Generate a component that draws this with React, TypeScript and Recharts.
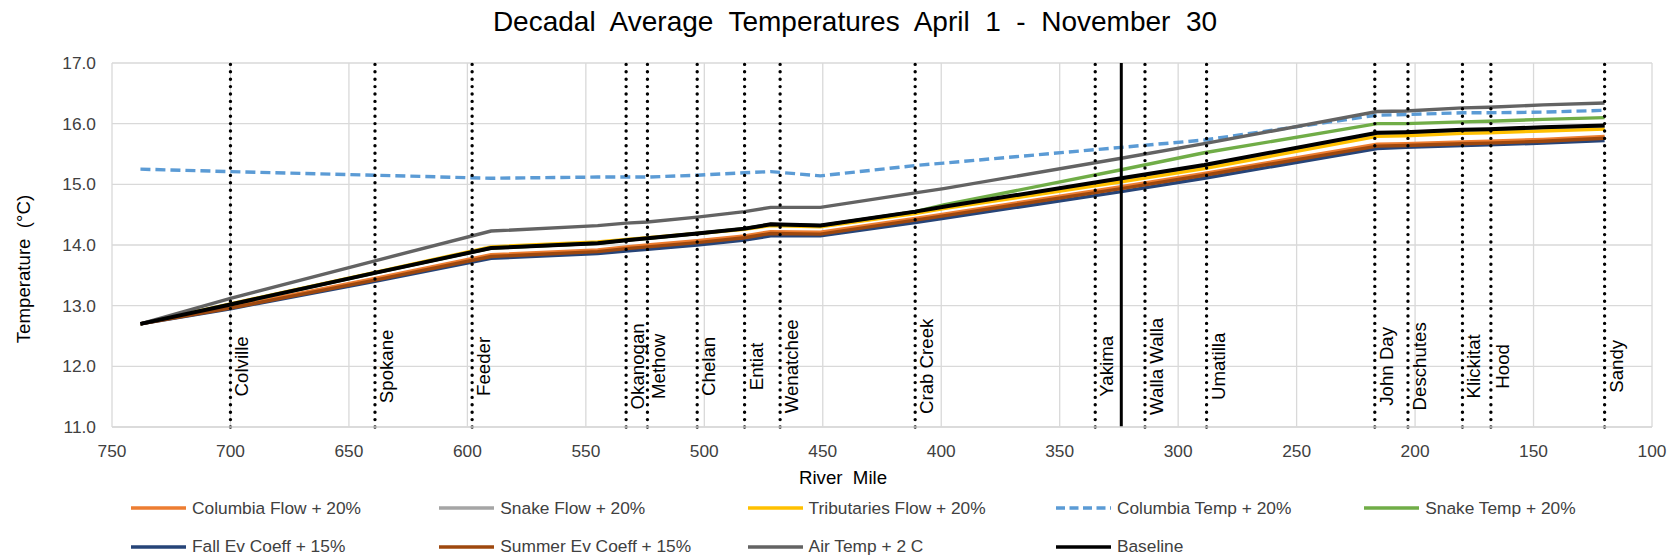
import { CartesianGrid, Line, LineChart, ReferenceLine, XAxis, YAxis } from "recharts";

// river miles where the model reports a value (upstream -> downstream)
const MILES = [738, 700, 639, 590, 545, 533, 524, 503, 483, 472, 451, 411, 399, 324, 289, 216, 204, 180, 169, 146, 120];

const COLUMBIA_FLOW = [12.7, 12.98, 13.45, 13.84, 13.92, 13.97, 14.0, 14.07, 14.15, 14.22, 14.21, 14.44, 14.51, 14.96, 15.18, 15.66, 15.67, 15.7, 15.71, 15.74, 15.79];
const SNAKE_FLOW = [12.7, 13.02, 13.54, 13.95, 14.03, 14.08, 14.11, 14.19, 14.27, 14.34, 14.32, 14.55, 14.63, 15.09, 15.31, 15.84, 15.85, 15.89, 15.9, 15.93, 15.96];
const TRIB_FLOW = [12.7, 13.03, 13.55, 13.97, 14.05, 14.09, 14.12, 14.19, 14.26, 14.32, 14.3, 14.52, 14.6, 15.04, 15.26, 15.79, 15.8, 15.84, 15.85, 15.88, 15.91];
const COLUMBIA_TEMP = [15.25, 15.21, 15.15, 15.1, 15.12, 15.12, 15.12, 15.15, 15.19, 15.21, 15.14, 15.31, 15.35, 15.61, 15.73, 16.14, 16.15, 16.18, 16.18, 16.19, 16.22];
const SNAKE_TEMP = [12.7, 13.02, 13.54, 13.95, 14.03, 14.08, 14.11, 14.19, 14.27, 14.34, 14.32, 14.55, 14.66, 15.24, 15.52, 16.0, 16.0, 16.03, 16.04, 16.07, 16.1];
const FALL_EV = [12.7, 12.95, 13.4, 13.78, 13.86, 13.9, 13.93, 14.0, 14.08, 14.15, 14.15, 14.37, 14.44, 14.88, 15.1, 15.59, 15.61, 15.64, 15.65, 15.68, 15.72];
const SUMMER_EV = [12.7, 12.96, 13.42, 13.81, 13.89, 13.94, 13.97, 14.04, 14.12, 14.19, 14.18, 14.41, 14.48, 14.93, 15.15, 15.63, 15.64, 15.67, 15.68, 15.71, 15.76];
const AIR_TEMP = [12.7, 13.12, 13.74, 14.23, 14.32, 14.36, 14.38, 14.46, 14.55, 14.62, 14.62, 14.86, 14.93, 15.43, 15.67, 16.2, 16.21, 16.26, 16.27, 16.31, 16.34];
const BASELINE = [12.7, 13.02, 13.54, 13.95, 14.03, 14.08, 14.11, 14.19, 14.27, 14.34, 14.32, 14.55, 14.63, 15.1, 15.32, 15.85, 15.86, 15.9, 15.91, 15.94, 15.97];

const TRIB_NAMES = ["Colville", "Spokane", "Feeder", "Okanogan", "Methow", "Chelan", "Entiat", "Wenatchee", "Crab Creek", "Yakima", "Walla Walla", "Umatilla", "John Day", "Deschutes", "Klickitat", "Hood", "Sandy"];
const TRIB_MILES = [700, 639, 598, 533, 524, 503, 483, 468, 411, 335, 314, 288, 217, 203, 180, 168, 120];
const SNAKE_CONFLUENCE = 324;

const X_TICKS = [750, 700, 650, 600, 550, 500, 450, 400, 350, 300, 250, 200, 150, 100];
const Y_TICKS = [11, 12, 13, 14, 15, 16, 17];

const SERIES = [
  { key: "columbiaFlow", name: "Columbia Flow + 20%", color: "#ED7D31", values: COLUMBIA_FLOW },
  { key: "snakeFlow", name: "Snake Flow + 20%", color: "#A5A5A5", values: SNAKE_FLOW },
  { key: "tribFlow", name: "Tributaries Flow + 20%", color: "#FFC000", values: TRIB_FLOW },
  { key: "columbiaTemp", name: "Columbia Temp + 20%", color: "#5B9BD5", values: COLUMBIA_TEMP, dash: "10 5" },
  { key: "snakeTemp", name: "Snake Temp + 20%", color: "#70AD47", values: SNAKE_TEMP },
  { key: "fallEv", name: "Fall Ev Coeff + 15%", color: "#264478", values: FALL_EV },
  { key: "summerEv", name: "Summer Ev Coeff + 15%", color: "#9E480E", values: SUMMER_EV },
  { key: "airTemp", name: "Air Temp + 2 C", color: "#636363", values: AIR_TEMP },
  { key: "baseline", name: "Baseline", color: "#000000", values: BASELINE, width: 4 },
];

const rows = MILES.map((mile, i) => {
  const row: Record<string, number> = { mile };
  SERIES.forEach((s) => (row[s.key] = s.values[i]));
  return row;
});

const FONT = "'Liberation Sans', Arial, sans-serif";
const TEXT = "#404040";
const tick = { fontSize: 17.33, fill: TEXT, fontFamily: FONT };

function TribLabel({ viewBox, name }: any) {
  if (!viewBox) return null;
  const x = viewBox.x + 18;
  const y = viewBox.y + (viewBox.height * 5) / 6;
  return (
    <text
      x={x}
      y={y}
      transform={`rotate(-90 ${x} ${y})`}
      textAnchor="middle"
      fontSize={18.67}
      fontFamily={FONT}
      fill="#000"
    >
      {name}
    </text>
  );
}

function LegendBlock() {
  return (
    <div style={{ position: "absolute", left: 0, top: 490, width: 1680, fontFamily: FONT, fontSize: 17.33, color: TEXT }}>
      {SERIES.map((s, i) => {
        const col = i % 5;
        const row = Math.floor(i / 5);
        return (
          <div
            key={s.key}
            style={{ position: "absolute", left: 130 + col * 308.3, top: row * 38.5, height: 36, display: "flex", alignItems: "center", whiteSpace: "nowrap" }}
          >
            <svg width={62} height={10}>
              <line
                x1={1}
                x2={56}
                y1={5}
                y2={5}
                stroke={s.color}
                strokeWidth={3.5}
                strokeDasharray={s.dash ? "9 4.5" : undefined}
              />
            </svg>
            <span>{s.name}</span>
          </div>
        );
      })}
    </div>
  );
}

export default function App() {
  return (
    <div style={{ position: "relative", width: 1680, height: 560, background: "#fff", overflow: "hidden" }}>
      <style>{`body{margin:0}`}</style>
      <LineChart width={1680} height={560} data={rows} margin={{ top: 63, right: 28, bottom: 103, left: 0 }}>
        <CartesianGrid stroke="#D9D9D9" strokeWidth={1.3} />
        <XAxis
          dataKey="mile"
          type="number"
          domain={[100, 750]}
          ticks={X_TICKS}
          reversed
          tick={tick}
          tickLine={false}
          tickSize={0}
          tickMargin={18}
          axisLine={{ stroke: "#D9D9D9", strokeWidth: 1.5 }}
          interval={0}
        />
        <YAxis
          type="number"
          domain={[11, 17]}
          ticks={Y_TICKS}
          width={112}
          tick={tick}
          tickLine={false}
          tickSize={0}
          tickMargin={16}
          axisLine={false}
          tickFormatter={(v) => Number(v).toFixed(1)}
        />
        {SERIES.map((s) => (
          <Line
            key={s.key}
            dataKey={s.key}
            name={s.name}
            stroke={s.color}
            strokeWidth={s.width ?? 3.4}
            strokeDasharray={s.dash}
            dot={false}
            activeDot={false}
            isAnimationActive={false}
          />
        ))}
        {TRIB_NAMES.map((name, i) => (
          <ReferenceLine
            key={name}
            x={TRIB_MILES[i]}
            stroke="#000"
            strokeWidth={3.4}
            strokeDasharray="0 7.4"
            strokeLinecap="round"
            label={<TribLabel name={name} />}
          />
        ))}
        <ReferenceLine x={SNAKE_CONFLUENCE} stroke="#000" strokeWidth={3} />
      </LineChart>
      <svg width={1680} height={560} style={{ position: "absolute", left: 0, top: 0, pointerEvents: "none" }}>
        <text x={855} y={31} textAnchor="middle" fontFamily={FONT} fontSize={28} fill="#000" style={{ whiteSpace: "pre" }}>
          {"Decadal  Average  Temperatures  April  1  -  November  30"}
        </text>
        <text
          x={30}
          y={269}
          transform="rotate(-90 30 269)"
          textAnchor="middle"
          fontFamily={FONT}
          fontSize={18.67}
          fill="#000"
          style={{ whiteSpace: "pre" }}
        >
          {"Temperature  (°C)"}
        </text>
        <text x={843} y={484} textAnchor="middle" fontFamily={FONT} fontSize={18.67} fill="#000" style={{ whiteSpace: "pre" }}>
          {"River  Mile"}
        </text>
      </svg>
      <LegendBlock />
    </div>
  );
}
